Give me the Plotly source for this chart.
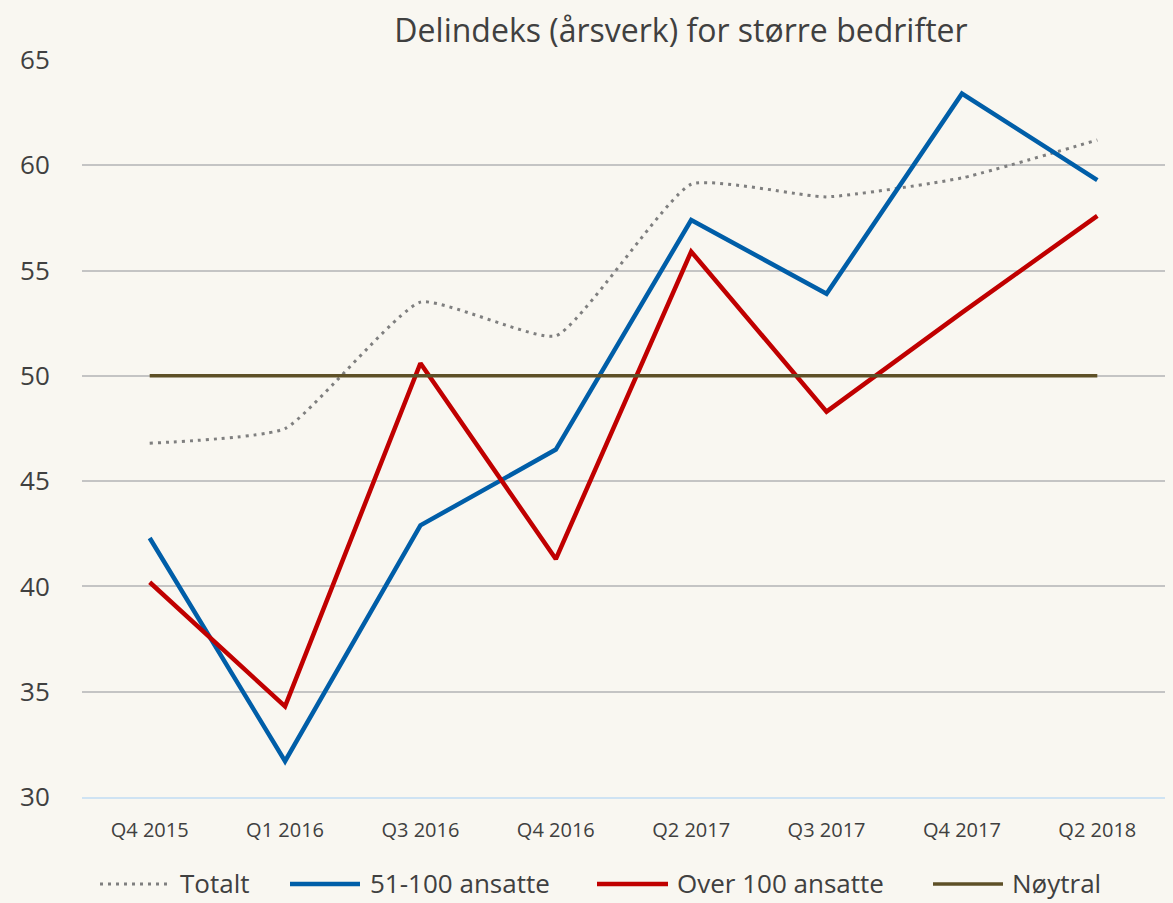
import plotly.graph_objects as go

categories = ["Q4 2015", "Q1 2016", "Q3 2016", "Q4 2016", "Q2 2017", "Q3 2017", "Q4 2017", "Q2 2018"]
totalt = [46.8, 47.5, 53.5, 51.9, 59.1, 58.5, 59.4, 61.2]
ansatte_51_100 = [42.3, 31.7, 42.9, 46.5, 57.4, 53.9, 63.4, 59.3]
over_100 = [40.2, 34.3, 50.6, 41.3, 55.9, 48.3, 53.0, 57.6]
noytral = [50, 50, 50, 50, 50, 50, 50, 50]
y_ticks = [30, 35, 40, 45, 50, 55, 60, 65]
series_names = ["Totalt", "51-100 ansatte", "Over 100 ansatte", "Nøytral"]

FONT = "Open Sans"
TEXT = "#404040"
W, H = 1173, 903
ML, MR, MT, MB = 82, 8, 60, 106
PW = W - ML - MR
PH = H - MT - MB

styles = [
    dict(color="#7f7f7f", width=3, dash="3px,5px", shape="spline", smoothing=0.45),
    dict(color="#005ea8", width=4.5),
    dict(color="#c00000", width=4.5),
    dict(color="#5e5027", width=3.5),
]
series = [totalt, ansatte_51_100, over_100, noytral]

fig = go.Figure()
for name, vals, st in zip(series_names, series, styles):
    fig.add_trace(go.Scatter(x=categories, y=vals, name=name, mode="lines", line=st, showlegend=False))

# custom legend (pixel layout)
def px_x(px):
    return (px - ML) / PW

def px_y(py):
    return (H - MB - py) / PH

legend_pos = [(100, 170, 178), (290, 360, 368), (597, 668, 675), (933, 1003, 1010)]
leg_y = 884
for name, st, (x0, x1, xt) in zip(series_names, styles, legend_pos):
    fig.add_shape(type="line", xref="paper", yref="paper",
                  x0=px_x(x0), x1=px_x(x1), y0=px_y(leg_y), y1=px_y(leg_y),
                  line=dict(color=st["color"], width=st["width"], dash=st.get("dash", "solid")))
    fig.add_annotation(xref="paper", yref="paper", x=px_x(xt), y=px_y(leg_y - 1),
                       text=name, showarrow=False, xanchor="left", yanchor="middle",
                       font=dict(family=FONT, size=26, color=TEXT))

fig.update_layout(
    width=W, height=H,
    paper_bgcolor="#f9f7f1", plot_bgcolor="#f9f7f1",
    margin=dict(l=ML, r=MR, t=MT, b=MB, autoexpand=False),
    title=dict(text="Delindeks (årsverk) for større bedrifter", x=681 / W, xanchor="center",
               y=1 - 31 / H, yanchor="middle", font=dict(family=FONT, size=32, color=TEXT)),
    font=dict(family=FONT, color=TEXT),
    xaxis=dict(showgrid=False, showline=True, linecolor="#cfe3f3", linewidth=2,
               tickfont=dict(size=20, color=TEXT), ticks="outside", ticklen=14,
               tickcolor="rgba(0,0,0,0)", range=[-0.5, 7.5]),
    yaxis=dict(range=[30, 65], tickvals=y_ticks, showgrid=True, gridcolor="#c4c4c4", gridwidth=2,
               zeroline=False, tickfont=dict(size=26, color=TEXT), ticks="outside",
               ticklen=26, tickcolor="rgba(0,0,0,0)"),
    showlegend=False,
)
fig.write_html("out.html", config={"displayModeBar": False},
               post_script="document.body.style.margin='0';document.body.style.background='#f9f7f1';")
